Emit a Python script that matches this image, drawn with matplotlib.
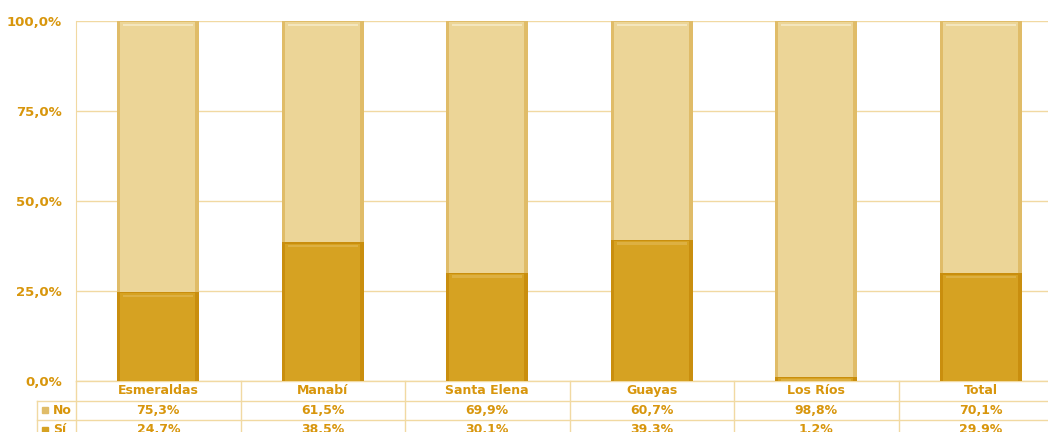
import numpy as np
import matplotlib.pyplot as plt
import matplotlib.transforms as mtransforms

categories = ['Esmeraldas', 'Manabí', 'Santa Elena', 'Guayas', 'Los Ríos', 'Total']
no_vals = [75.3, 61.5, 69.9, 60.7, 98.8, 70.1]
si_vals = [24.7, 38.5, 30.1, 39.3, 1.2, 29.9]
yticks = [0, 25, 50, 75, 100]

txt_col = '#D8960C'
grid_col = '#F1D9A2'
si_col = '#D6A222'
si_edge = '#C98E0E'
si_hi = '#DDB042'
no_col = '#ECD597'
no_edge = '#E0BC68'
no_hi = '#F4E6BD'


def fmt(v):
    return ('%.1f%%' % v).replace('.', ',')


fig = plt.figure(figsize=(10.48, 4.32), dpi=100)
# axes runs a little past the right edge of the image
ax = fig.add_axes([76/1048, 1-381/432, (1063-76)/1048, 360/432])

x = np.arange(len(categories))
w = 0.5
px = 100/360.0  # one pixel in data units (y)
pxx = 1/164.5   # one pixel in data units (x)


def draw_seg(xc, bottom, h, col, edge, hi):
    ax.bar(xc, h, w, bottom=bottom, color=col, zorder=3, linewidth=0)
    # darker side strips
    ax.bar(xc - w/2 + 1.5*pxx, h, 3*pxx, bottom=bottom, color=edge, zorder=4, linewidth=0)
    ax.bar(xc + w/2 - 2*pxx, h, 4*pxx, bottom=bottom, color=edge, zorder=4, linewidth=0)
    if h > 3*px:
        # dark rim at top, highlight band just below
        ax.bar(xc, 1.2*px, w, bottom=bottom+h-1.2*px, color=edge, zorder=4, linewidth=0)
        ax.bar(xc, 2.5*px, w - 12*pxx, bottom=bottom+h-5*px, color=hi, zorder=5, linewidth=0)


for i in range(len(categories)):
    draw_seg(x[i], 0, si_vals[i], si_col, si_edge, si_hi)
    draw_seg(x[i], si_vals[i], no_vals[i], no_col, no_edge, no_hi)

ax.set_xlim(-0.5, len(categories)-0.5)
ax.set_ylim(0, 100)
ax.set_yticks(yticks)
ax.set_yticklabels([fmt(v) for v in yticks], color=txt_col, fontsize=9.5, fontweight='bold')
ax.tick_params(axis='y', length=0, pad=10)
ax.set_xticks([])
for t in yticks:
    ax.axhline(t, color=grid_col, lw=1, zorder=1)
for s in ['top', 'right', 'bottom']:
    ax.spines[s].set_visible(False)
ax.spines['left'].set_color(grid_col)

# data table under the chart
trans = mtransforms.blended_transform_factory(ax.transData, ax.transAxes)
rh = 19.5/360.0
ax.plot([-0.5, 5.5], [0, 0], transform=trans, color=grid_col, lw=1, clip_on=False)
for k in [1, 2]:
    ax.plot([-0.5 - 39*pxx, 5.5], [-k*rh, -k*rh], transform=trans, color=grid_col, lw=1, clip_on=False)
for b in np.arange(-0.5, 6.0, 1.0):
    ax.plot([b, b], [0, -3*rh], transform=trans, color=grid_col, lw=1, clip_on=False)
ax.plot([-0.5 - 39*pxx]*2, [-rh, -3*rh], transform=trans, color=grid_col, lw=1, clip_on=False)

for i, c in enumerate(categories):
    ax.text(x[i], -0.5*rh, c, transform=trans, ha='center', va='center',
            color=txt_col, fontsize=9, fontweight='bold')
    ax.text(x[i], -1.5*rh, fmt(no_vals[i]), transform=trans, ha='center', va='center',
            color=txt_col, fontsize=9, fontweight='bold')
    ax.text(x[i], -2.5*rh, fmt(si_vals[i]), transform=trans, ha='center', va='center',
            color=txt_col, fontsize=9, fontweight='bold')

for k, (lab, col) in enumerate([('No', no_edge), ('Sí', si_col)]):
    yy = -(1.5 + k)*rh
    ax.plot([-0.5 - 31*pxx], [yy], transform=trans, marker='s', ms=5, color=col,
            clip_on=False, linestyle='none')
    ax.text(-0.5 - 23*pxx, yy, lab, transform=trans, ha='left', va='center',
            color=txt_col, fontsize=9, fontweight='bold')

fig.savefig('out.png', dpi=100)
